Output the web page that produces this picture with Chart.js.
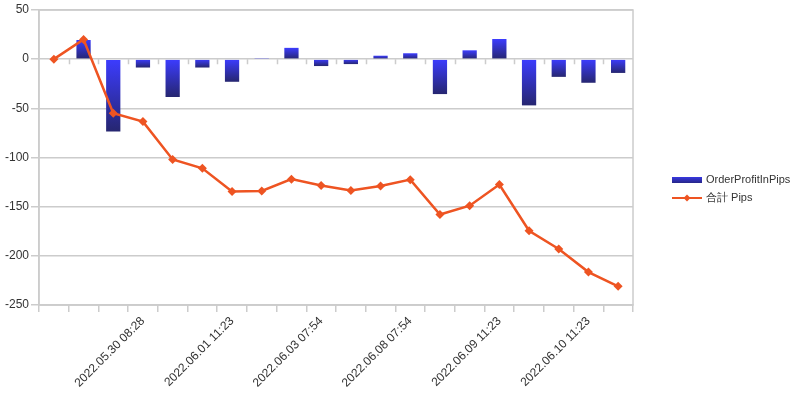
<!DOCTYPE html>
<html>
<head>
<meta charset="utf-8">
<script src="https://cdn.jsdelivr.net/npm/chart.js@4.4.1/dist/chart.umd.min.js"></script>
<style>
  html, body { margin: 0; padding: 0; background: #fff; }
  #chart { display: block; }
</style>
</head>
<body>
<canvas id="chart" width="800" height="398"></canvas>
<script>
// only every third date is printed on the axis, the others could not be read
const categories = [
  '', '', '', '2022.05.30 08:28', '', '', '2022.06.01 11:23', '', '',
  '2022.06.03 07:54', '', '', '2022.06.08 07:54', '', '', '2022.06.09 11:23',
  '', '', '2022.06.10 11:23', ''
];
const orderProfit = [0, 19.5, -73.5, -8.5, -38.5, -8.5, -23, 0.5, 11.5, -7,
  -5, 3.5, 6, -35.5, 9, 20.5, -47, -18, -24, -14];
const totalPips = [0, 20, -55, -63.5, -102, -111, -134.5, -134, -122, -128.5,
  -133.5, -129, -122.5, -158, -149, -127.5, -174.5, -193, -216.5, -231];
const yTicks = [50, 0, -50, -100, -150, -200, -250];

const seriesNames = ['OrderProfitInPips', '合計 Pips'];
const lineColor = '#ee5422';
const gridColor = '#cccccc';
const textColor = '#333333';
const fontFamily = "'Liberation Sans', Arial, sans-serif";

function barFill(ctx) {
  const chart = ctx.chart;
  if (!chart.chartArea || ctx.type !== 'data') return '#3333cc';
  const y = chart.scales.y;
  const y0 = y.getPixelForValue(0);
  const y1 = y.getPixelForValue(ctx.raw);
  const top = Math.min(y0, y1), bot = Math.max(y0, y1);
  if (bot - top < 1) return '#3c3cff';
  const g = chart.ctx.createLinearGradient(0, top, 0, bot);
  g.addColorStop(0, '#3c3cff');
  g.addColorStop(1, '#262670');
  return g;
}

// frame round the plot and the little ticks on the zero line
const framePlugin = {
  id: 'frame',
  beforeDatasetsDraw(chart) {
    const { ctx, chartArea: a, scales: { x, y } } = chart;
    ctx.save();
    ctx.strokeStyle = gridColor;
    ctx.lineWidth = 1.5;
    ctx.strokeRect(a.left, a.top, a.right - a.left, a.bottom - a.top);
    const y0 = y.getPixelForValue(0);
    const half = (x.getPixelForValue(1) - x.getPixelForValue(0)) / 2;
    ctx.beginPath();
    for (let i = 1; i < categories.length; i++) {
      const px = Math.round(x.getPixelForValue(i) - half) + 0.5;
      ctx.moveTo(px, y0);
      ctx.lineTo(px, y0 + 5);
    }
    ctx.stroke();
    ctx.restore();
  }
};

// legend drawn by hand so the line entry shows line plus diamond
const legendPlugin = {
  id: 'sideLegend',
  afterDraw(chart) {
    const { ctx } = chart;
    const left = 672, w = 30, textX = 706;
    const rows = [180, 198];
    ctx.save();
    ctx.font = '11px ' + fontFamily;
    ctx.textBaseline = 'middle';
    ctx.fillStyle = textColor;
    // bar entry
    const g = ctx.createLinearGradient(0, rows[0] - 3, 0, rows[0] + 3);
    g.addColorStop(0, '#3838e0');
    g.addColorStop(1, '#262688');
    ctx.fillStyle = g;
    ctx.fillRect(left, rows[0] - 3, w, 6);
    ctx.fillStyle = textColor;
    ctx.fillText(seriesNames[0], textX, rows[0]);
    // line entry
    ctx.strokeStyle = lineColor;
    ctx.lineWidth = 2;
    ctx.beginPath();
    ctx.moveTo(left, rows[1]);
    ctx.lineTo(left + w, rows[1]);
    ctx.stroke();
    const cx = left + w / 2, r = 3.5;
    ctx.fillStyle = lineColor;
    ctx.beginPath();
    ctx.moveTo(cx, rows[1] - r);
    ctx.lineTo(cx + r, rows[1]);
    ctx.lineTo(cx, rows[1] + r);
    ctx.lineTo(cx - r, rows[1]);
    ctx.closePath();
    ctx.fill();
    ctx.fillStyle = textColor;
    ctx.fillText(seriesNames[1], textX, rows[1]);
    ctx.restore();
  }
};

Chart.defaults.font.family = fontFamily;
Chart.defaults.color = textColor;

new Chart(document.getElementById('chart'), {
  type: 'bar',
  data: {
    labels: categories,
    datasets: [
      {
        type: 'line',
        label: seriesNames[1],
        data: totalPips,
        borderColor: lineColor,
        backgroundColor: lineColor,
        borderWidth: 2.5,
        pointStyle: 'rectRot',
        pointRadius: 4.5,
        pointBorderWidth: 0,
        tension: 0,
        order: 0
      },
      {
        label: seriesNames[0],
        data: orderProfit,
        backgroundColor: barFill,
        barPercentage: 0.48,
        categoryPercentage: 1,
        order: 1
      }
    ]
  },
  options: {
    responsive: false,
    animation: false,
    layout: { padding: { top: 10, right: 167, left: 0, bottom: 0 } },
    plugins: {
      legend: { display: false },
      tooltip: { enabled: false }
    },
    scales: {
      x: {
        grid: {
          offset: true,
          drawOnChartArea: false,
          drawTicks: true,
          tickLength: 7,
          color: gridColor,
          lineWidth: 1.5
        },
        border: { color: gridColor, width: 1.5 },
        ticks: {
          autoSkip: false,
          maxRotation: 45,
          minRotation: 45,
          padding: 2,
          font: { size: 12 }
        },
        afterFit(scale) { scale.height = 93; }
      },
      y: {
        min: yTicks[yTicks.length - 1],
        max: yTicks[0],
        afterBuildTicks(scale) {
          scale.ticks = yTicks.map(v => ({ value: v }));
        },
        grid: {
          color: gridColor,
          lineWidth: 1.5,
          tickLength: 8
        },
        border: { color: gridColor, width: 1.5 },
        ticks: { padding: 2, font: { size: 12 } },
        afterFit(scale) { scale.width = 39; }
      }
    }
  },
  plugins: [framePlugin, legendPlugin]
});
</script>
</body>
</html>
